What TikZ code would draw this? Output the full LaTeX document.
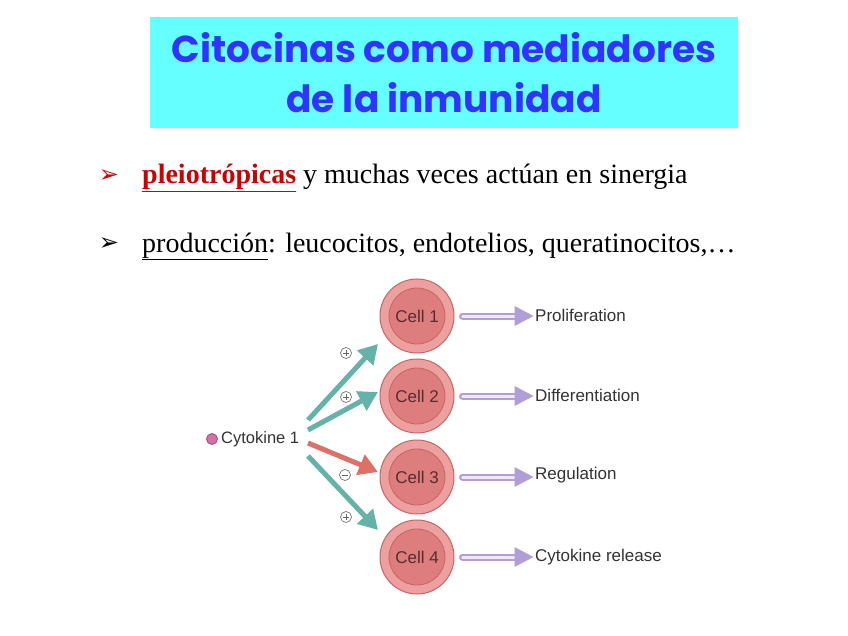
\documentclass[tikz,border=0pt]{standalone}
\usepackage{fontspec}
\setmainfont{Liberation Serif}
\setsansfont{Liberation Sans}
\newfontfamily\titlefont{Poppins}
\newfontfamily\symfont{DejaVu Sans}
\usetikzlibrary{arrows.meta,calc}
\definecolor{titlebg}{RGB}{102,255,255}
\definecolor{titleblue}{RGB}{51,51,255}
\definecolor{bulletred}{RGB}{204,0,0}
\definecolor{tealarr}{RGB}{100,178,168}
\definecolor{redarr}{RGB}{222,112,102}
\definecolor{cellout}{RGB}{236,160,160}
\definecolor{cellin}{RGB}{222,125,125}
\definecolor{cellline}{RGB}{200,100,100}
\definecolor{purp}{RGB}{178,158,215}
\definecolor{purpl}{RGB}{238,232,248}
\definecolor{celltext}{RGB}{85,45,45}
\definecolor{dotpink}{RGB}{215,110,170}
\tikzset{
  titlebox/.style={fill=titlebg, minimum width=588pt, minimum height=111pt, inner sep=0pt, align=center,
    text=titleblue, font=\titlefont\bfseries\fontsize{37.5}{50}\selectfont},
  bulletsym/.style={font=\symfont\fontsize{24}{24}\selectfont, inner sep=0pt},
  bullettext/.style={anchor=base west, inner sep=0pt, font=\fontsize{28}{28}\selectfont},
  cellouter/.style={circle, fill=cellout, draw=cellline, line width=1pt, minimum size=74pt, inner sep=0pt},
  cellinner/.style={circle, fill=cellin, draw=cellline, line width=0.8pt, minimum size=56pt, inner sep=0pt,
    text=celltext, font=\sffamily\fontsize{17}{17}\selectfont},
  outlabel/.style={anchor=west, inner sep=0pt, text=black!80, font=\sffamily\fontsize{17}{17}\selectfont},
  sigarrow/.style={line width=5pt, -{Triangle[width=21pt,length=19pt]}},
  signnode/.style={circle, draw=black!55, line width=0.7pt, minimum size=11pt, inner sep=0pt},
  signline/.style={draw=black!60, line width=0.8pt},
  pshaft/.style={line width=7pt, draw=purp, line cap=round},
  pshaftin/.style={line width=3pt, draw=purpl, line cap=round},
}
\begin{document}
\begin{tikzpicture}[x=1pt,y=-1pt]
\useasboundingbox (0,0) rectangle (848,636);
\fill[white] (0,0) rectangle (848,636);

% title
\node[titlebox] (title) at (444,72.5) {Citocinas como mediadores\\de la inmunidad};

% bullets
\node[bulletsym, text=bulletred] (bs1) at (109,176) {➢};
\node[bullettext] (b1) at (142,184) {\textcolor{bulletred}{\textbf{\underline{pleiotrópicas}}} y muchas veces actúan en sinergia};
\node[bulletsym, text=black] (bs2) at (109,244) {➢};
\node[bullettext] (b2) at (142,252) {\underline{producción}: leucocitos, endotelios, queratinocitos,…};

% cytokine
\node[circle, fill=dotpink, draw=dotpink!70!black, line width=0.8pt, minimum size=11pt, inner sep=0pt] (dot) at (212,439) {};
\node[anchor=west, inner sep=0pt, text=black!80, font=\sffamily\fontsize{16.5}{16.5}\selectfont] (cyt) at (221,439) {Cytokine 1};

% cells
\foreach \i/\y in {1/316,2/396,3/477,4/557}{
  \node[cellouter] (c\i) at (417,\y) {};
  \node[cellinner] (ci\i) at (c\i) {Cell \i};
}

% output labels
\node[outlabel] (p1) at (535,315) {Proliferation};
\node[outlabel] (p2) at (535,395) {Differentiation};
\node[outlabel] (p3) at (535,475) {Regulation};
\node[outlabel] (p4) at (535,557) {Cytokine release};

% purple arrows
\foreach \i in {1,2,3,4}{
  \coordinate (ps\i) at ($(c\i.east)+(8,0)$);
  \coordinate (pe\i) at ($(c\i.east)+(62,0)$);
  \coordinate (ph\i) at ($(c\i.east)+(79,0)$);
  \draw[pshaft] (ps\i) -- (pe\i);
  \draw[pshaftin] (ps\i) -- (pe\i);
  \fill[purp] (ph\i) -- ($(pe\i)+(-2,-10)$) -- ($(pe\i)+(-2,10)$) -- cycle;
}

% signal arrows
\coordinate (s1) at (308,420);
\coordinate (s2) at (308,430);
\coordinate (s3) at (308,443);
\coordinate (s4) at (308,456);
\coordinate (t1) at (378,344);
\coordinate (t2) at (378,392);
\coordinate (t3) at (378,472);
\coordinate (t4) at (378,530);
\draw[sigarrow, tealarr] (s1) -- (t1);
\draw[sigarrow, tealarr] (s2) -- (t2);
\draw[sigarrow, redarr] (s3) -- (t3);
\draw[sigarrow, tealarr] (s4) -- (t4);

% signs
\foreach \n/\x/\y in {g1/346/353, g2/346/397, g4/346/517}{
  \node[signnode] (\n) at (\x,\y) {};
  \draw[signline] ($(\n)+(-3,0)$) -- ($(\n)+(3,0)$) ($(\n)+(0,-3)$) -- ($(\n)+(0,3)$);
}
\node[signnode] (g3) at (345,475) {};
\draw[signline] ($(g3)+(-3,0)$) -- ($(g3)+(3,0)$);
\end{tikzpicture}
\end{document}
